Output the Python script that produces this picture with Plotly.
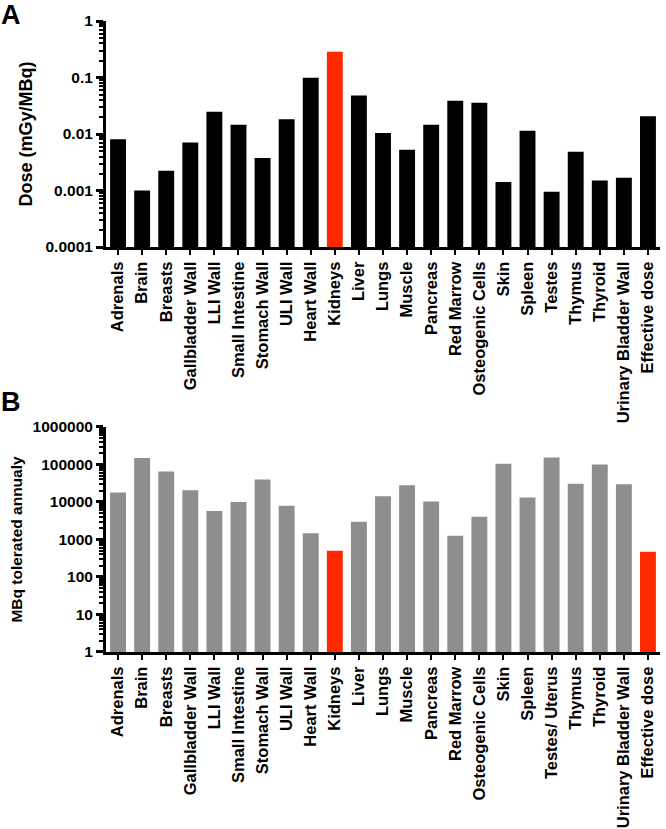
import plotly.graph_objects as go

cats_a = ["Adrenals", "Brain", "Breasts", "Gallbladder Wall", "LLI Wall", "Small Intestine",
          "Stomach Wall", "ULI Wall", "Heart Wall", "Kidneys", "Liver", "Lungs", "Muscle",
          "Pancreas", "Red Marrow", "Osteogenic Cells", "Skin", "Spleen", "Testes", "Thymus",
          "Thyroid", "Urinary Bladder Wall", "Effective dose"]
dose = [0.0081, 0.0010, 0.00224, 0.0071, 0.0248, 0.0146, 0.00376, 0.0182, 0.099, 0.286,
        0.0479, 0.0104, 0.00525, 0.0146, 0.0386, 0.0356, 0.00141, 0.0114, 0.00095, 0.00485,
        0.0015, 0.00168, 0.0207]

cats_b = ["Adrenals", "Brain", "Breasts", "Gallbladder Wall", "LLI Wall", "Small Intestine",
          "Stomach Wall", "ULI Wall", "Heart Wall", "Kidneys", "Liver", "Lungs", "Muscle",
          "Pancreas", "Red Marrow", "Osteogenic Cells", "Skin", "Spleen", "Testes/ Uterus",
          "Thymus", "Thyroid", "Urinary Bladder Wall", "Effective dose"]
tolerated = [17800, 148000, 65000, 20600, 5780, 10000, 39700, 8000, 1470, 500,
             2990, 14300, 28100, 10300, 1260, 4070, 104000, 13200, 154000, 30500,
             100000, 29900, 472]

ticks_a = [0.0001, 0.001, 0.01, 0.1, 1]
ticktext_a = ["0.0001", "0.001", "0.01", "0.1", "1"]
ticks_b = [1, 10, 100, 1000, 10000, 100000, 1000000]
ticktext_b = ["1", "10", "100", "1000", "10000", "100000", "1000000"]

RED = "#ff2a00"
BLACK = "#000000"
GRAY = "#8e8e8e"
colors_a = [RED if c == "Kidneys" else BLACK for c in cats_a]
colors_b = [RED if c in ("Kidneys", "Effective dose") else GRAY for c in cats_b]

FONT = "Liberation Sans, Arial, sans-serif"

fig = go.Figure()
fig.add_trace(go.Bar(x=cats_a, y=dose, marker=dict(color=colors_a, line=dict(width=0)),
                     xaxis="x", yaxis="y", width=0.66))
fig.add_trace(go.Bar(x=cats_b, y=tolerated, marker=dict(color=colors_b, line=dict(width=0)),
                     xaxis="x2", yaxis="y2", width=0.66))

xtickfont = dict(family=FONT, size=16.5, color="black", weight="bold")
ytickfont = dict(family=FONT, size=15.5, color="black", weight="bold")
xcommon = dict(type="category", tickangle=-90, ticks="outside", ticklen=5, tickwidth=2,
               tickcolor="black", showline=True, linewidth=3, linecolor="black",
               showgrid=False, zeroline=False, tickfont=xtickfont, range=[-0.5, 22.5],
               automargin=False)
ycommon = dict(type="log", ticks="outside", ticklen=7, tickwidth=2.5, tickcolor="black",
               showline=True, linewidth=3, linecolor="black", showgrid=False,
               zeroline=False, tickfont=ytickfont, automargin=False,
               minor=dict(ticks="outside", ticklen=4, tickwidth=1.5, tickcolor="black",
                          dtick="D1", showgrid=False))

fig.update_layout(
    width=666, height=829,
    margin=dict(l=106, r=6, t=21, b=177),
    plot_bgcolor="white", paper_bgcolor="white",
    showlegend=False, bargap=0.34,
    xaxis=dict(**xcommon, domain=[0, 1], anchor="y"),
    yaxis=dict(**ycommon, domain=[0.6418, 1], range=[-4, 0], tickvals=ticks_a,
               ticktext=ticktext_a, anchor="x",
               title=dict(text="Dose (mGy/MBq)", font=dict(family=FONT, size=18, color="black", weight="bold"),
                          standoff=9)),
    xaxis2=dict(**xcommon, domain=[0, 1], anchor="y2"),
    yaxis2=dict(**ycommon, domain=[0, 0.3566], range=[0, 6], tickvals=ticks_b,
                ticktext=ticktext_b, anchor="x2",
                title=dict(text="MBq tolerated annualy", font=dict(family=FONT, size=15.5, color="black", weight="bold"),
                           standoff=7)),
    annotations=[
        dict(text="A", x=0, y=1.0095, xref="paper", yref="paper", xanchor="left", yanchor="middle",
             xshift=-107, showarrow=False,
             font=dict(family=FONT, size=27, color="black", weight="bold")),
        dict(text="B", x=0, y=0.396, xref="paper", yref="paper", xanchor="left", yanchor="middle",
             xshift=-107, showarrow=False,
             font=dict(family=FONT, size=27, color="black", weight="bold")),
    ],
)

fig.write_html("out.html", config={"displayModeBar": False},
               post_script="document.body.style.margin='0';")
